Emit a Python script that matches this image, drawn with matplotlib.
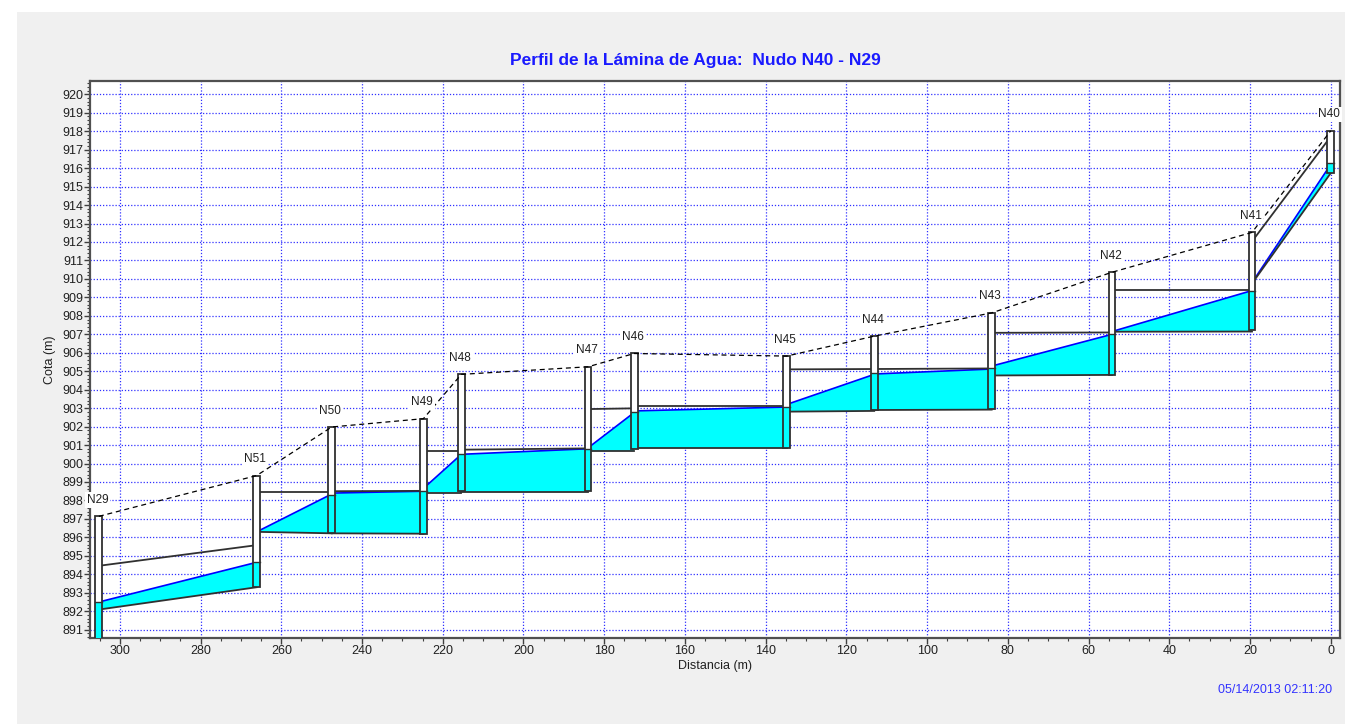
import numpy as np
import matplotlib.pyplot as plt
from matplotlib.patches import Rectangle, Polygon
from matplotlib.ticker import MultipleLocator

plt.rcParams['font.family'] = ['Liberation Sans', 'DejaVu Sans']

# nodes, from N29 (downstream) to N40 (upstream)
nodes = ['N29', 'N51', 'N50', 'N49', 'N48', 'N47', 'N46',
         'N45', 'N44', 'N43', 'N42', 'N41', 'N40']
dist = [305.2, 266.1, 247.5, 224.8, 215.4, 184.0, 172.6,
        134.8, 113.1, 84.0, 54.2, 19.5, 0.0]
ground = [897.14, 899.35, 901.98, 902.43, 904.83, 905.24, 905.96,
          905.82, 906.90, 908.16, 910.36, 912.52, 918.02]
node_inv = [890.40, 893.33, 896.23, 896.20, 898.50, 898.50, 900.80,
            900.86, 902.90, 902.97, 904.80, 907.22, 915.73]
node_wl = [892.50, 894.65, 898.32, 898.52, 900.50, 900.81, 902.78,
           903.06, 904.90, 905.19, 906.99, 909.37, 916.30]

# conduits between consecutive nodes: left end (a) and right end (b)
inv_a = [892.09, 896.30, 896.22, 898.43, 898.45, 900.68,
         900.83, 902.81, 902.90, 904.77, 907.14, 909.75]
inv_b = [893.30, 896.22, 896.20, 898.43, 898.45, 900.68,
         900.83, 902.85, 902.92, 904.80, 907.15, 915.73]
crown_a = [894.46, 898.46, 898.50, 900.68, 900.75, 902.95,
           903.11, 905.10, 905.12, 907.08, 909.42, 912.03]
crown_b = [895.58, 898.46, 898.52, 900.68, 900.82, 902.99,
           903.11, 905.12, 905.15, 907.10, 909.42, 917.71]
wl_a = [892.50, 896.30, 898.40, 898.65, 900.50, 900.85,
        902.85, 903.20, 904.85, 905.28, 907.15, 909.80]
wl_b = [894.65, 898.35, 898.50, 900.50, 900.80, 902.76,
        903.06, 904.83, 905.12, 907.00, 909.37, 916.20]

W, H = 1345, 724
fig = plt.figure(figsize=(W / 100, H / 100), dpi=100)
fig.patches.append(Rectangle((17 / W, 0), 1, 1 - 12 / H, transform=fig.transFigure,
                             facecolor='#f0f0f0', edgecolor='none', zorder=-10))
ax = fig.add_axes([90 / W, 86 / H, 1250 / W, 557 / H])
ax.set_facecolor('white')

line_col = '#303030'
water_col = '#00ffff'

for i in range(len(nodes) - 1):
    x0, x1 = dist[i], dist[i + 1]
    ax.add_patch(Polygon([(x0, inv_a[i]), (x1, inv_b[i]), (x1, wl_b[i]), (x0, wl_a[i])],
                         facecolor=water_col, edgecolor='none', zorder=2))
    ax.plot([x0, x1], [wl_a[i], wl_b[i]], color='#0000ff', lw=1.2, zorder=3)
    ax.plot([x0, x1], [inv_a[i], inv_b[i]], color=line_col, lw=1.3, zorder=3)
    ax.plot([x0, x1], [crown_a[i], crown_b[i]], color=line_col, lw=1.3, zorder=3)

rw = 1.7
for i, n in enumerate(nodes):
    x = dist[i]
    ax.add_patch(Rectangle((x - rw / 2, node_inv[i]), rw, ground[i] - node_inv[i],
                           facecolor='white', edgecolor='none', zorder=4))
    ax.add_patch(Rectangle((x - rw / 2, node_inv[i]), rw, node_wl[i] - node_inv[i],
                           facecolor=water_col, edgecolor='none', zorder=4))
    ax.plot([x - rw / 2, x + rw / 2], [node_wl[i], node_wl[i]], color=line_col, lw=1.0, zorder=5)
    ax.add_patch(Rectangle((x - rw / 2, node_inv[i]), rw, ground[i] - node_inv[i],
                           facecolor='none', edgecolor=line_col, lw=1.3, zorder=5))
    ax.annotate(n, (x, ground[i]), xytext=(-1, 7.5), textcoords='offset points',
                ha='center', va='bottom', fontsize=8.5, color='#202020', zorder=6,
                bbox=dict(boxstyle='square,pad=0.15', facecolor='white', edgecolor='none'))

ax.plot(dist, ground, color='black', lw=0.9, ls=(0, (4, 3)), zorder=5)

ax.set_xlim(307.4, -2.3)
ax.set_ylim(890.55, 920.72)
ax.xaxis.set_major_locator(MultipleLocator(20))
ax.xaxis.set_minor_locator(MultipleLocator(5))
ax.yaxis.set_major_locator(MultipleLocator(1))
ax.yaxis.set_minor_locator(MultipleLocator(0.2))
ax.grid(True, which='major', color='#3030ff', lw=0.9, ls=(0, (1, 1.5)), zorder=1)
ax.set_axisbelow(True)
ax.tick_params(which='major', direction='out', length=4, width=1, labelsize=9,
               colors='#404040', labelcolor='#202020', pad=1)
ax.tick_params(which='minor', direction='out', length=2.5, width=0.8, colors='#404040')
for s in ax.spines.values():
    s.set_color('#505050')
    s.set_linewidth(1.6)

ax.set_xlabel('Distancia (m)', fontsize=9, color='#202020', labelpad=2)
ax.set_ylabel('Cota (m)', fontsize=9, color='#202020', labelpad=4)
fig.text(695 / W, 1 - 60 / H, 'Perfil de la Lámina de Agua:  Nudo N40 - N29',
         ha='center', va='center', fontsize=12.5, fontweight='bold', color='#1a1aff')
fig.text(1332 / W, 1 - 690 / H, '05/14/2013 02:11:20', ha='right', va='center',
         fontsize=9, color='#3333ff')

fig.savefig('out.png', dpi=100)
